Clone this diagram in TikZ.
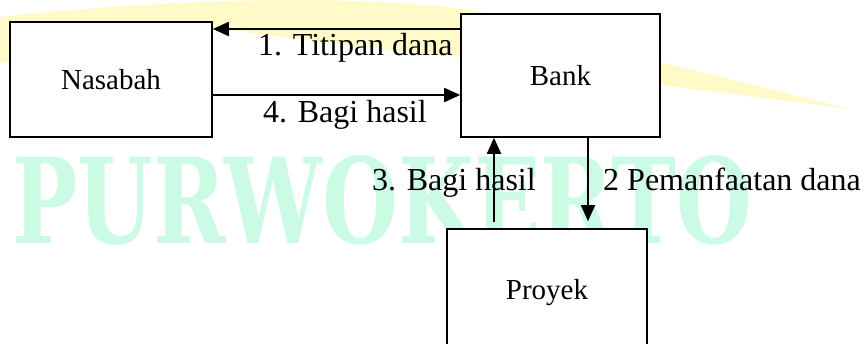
\documentclass[tikz,border=0pt]{standalone}
\usepackage{fontspec}
\setmainfont{Liberation Serif}
\newfontfamily\markfont{DejaVu Serif}
\usetikzlibrary{arrows.meta}
\definecolor{swooshyellow}{RGB}{255,250,200}
\definecolor{markgreen}{RGB}{204,251,229}
\tikzset{
  box/.style={draw=black, line width=1.6pt, fill=white, inner sep=0pt,
    font=\fontsize{29}{35}\selectfont},
  lbl/.style={inner sep=0pt, font=\fontsize{32}{38}\selectfont},
  flow/.style={line width=1.8pt, -{Triangle[length=16pt,width=14pt]}},
}
\begin{document}
\begin{tikzpicture}[x=1pt,y=-1pt]
\useasboundingbox (0,0) rectangle (864,343);
\clip (0,0) rectangle (864,343);

% background swoosh
\fill[swooshyellow] (0,17) .. controls (120,4) and (300,-8) .. (445,7)
  .. controls (540,18) and (610,40) .. (660,62) -- (850,109) -- (660,85)
  .. controls (600,72) and (520,60) .. (460,57)
  .. controls (380,50) and (290,38) .. (213,28) -- (200,60) -- (0,62) -- cycle;

% background lettering
\node[anchor=south west, inner sep=0pt, text=markgreen] (mark) at (12,245)
  {\resizebox{740pt}{88pt}{\markfont\bfseries PURWOKERTO}};

% parties
\node[box, minimum width=202pt, minimum height=115pt] (nas) at (111,79.5) {Nasabah};
\node[box, minimum width=199pt, minimum height=123pt] (bank) at (560.5,75.5) {Bank};
\node[box, minimum width=200pt, minimum height=128pt] (proy) at (547,293) {Proyek};

% flow labels
\node[lbl, anchor=base west] (t1) at (258,55) {1. Titipan dana};
\node[lbl, anchor=base west] (t4) at (263,122) {4. Bagi hasil};
\node[lbl, anchor=base west] (t3) at (372,190) {3. Bagi hasil};
\node[lbl, anchor=base west] (t2) at (603,190) {2 Pemanfaatan dana};

% flows
\coordinate (row1) at (0,29);
\coordinate (row4) at (0,95);
\coordinate (col3) at (494,0);
\coordinate (col2) at (588,0);
\draw[flow] (bank.west |- row1) -- (nas.east |- row1);
\draw[flow] (nas.east |- row4) -- (bank.west |- row4);
\draw[flow, shorten <=6pt] (proy.north -| col3) -- (bank.south -| col3);
\draw[flow, shorten >=7pt] (bank.south -| col2) -- (proy.north -| col2);
\end{tikzpicture}
\end{document}
